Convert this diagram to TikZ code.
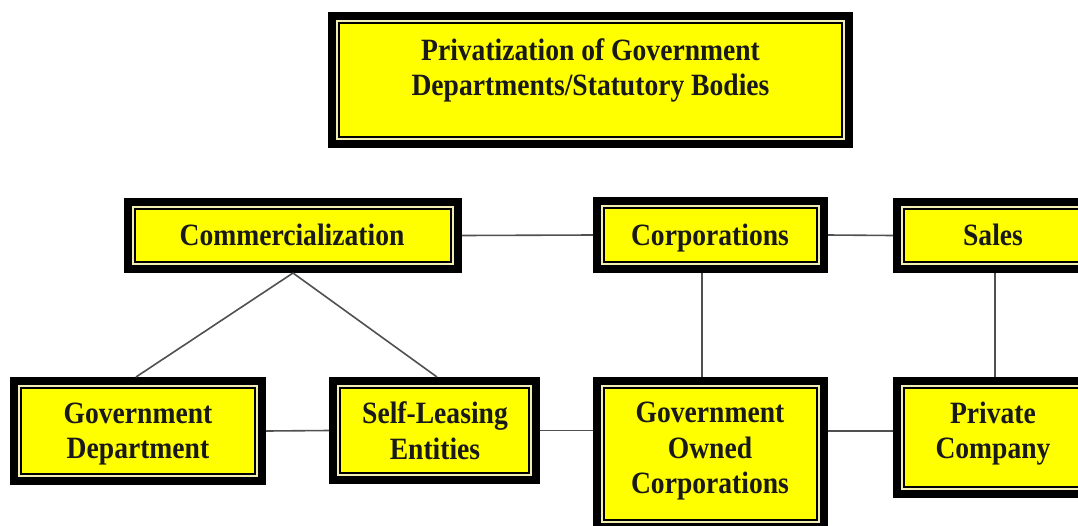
\documentclass[tikz,border=0pt]{standalone}
\usepackage{fontspec}
\setmainfont{Liberation Serif}[FakeStretch=0.89]
\definecolor{boxyellow}{HTML}{FFFF00}
\definecolor{cream}{HTML}{F2EDB0}
\definecolor{linegray}{HTML}{505050}
\tikzset{
  box/.style={rectangle, fill=boxyellow, draw=black, line width=2pt, inner sep=0pt, outer sep=11pt,
    preaction={draw=black, line width=22pt},
    preaction={draw=cream, line width=6.6pt}},
  txt/.style={align=center, inner sep=0pt, text=black!90, font=\fontsize{31}{35.5}\selectfont\bfseries,
    execute at begin node=\strut, execute at end node=\strut},
  conn/.style={draw=linegray, line width=1.6pt}
}
\begin{document}
\begin{tikzpicture}[x=1pt,y=-1pt]
\clip (0,0) rectangle (1078,525);
\fill[white] (0,0) rectangle (1078,525);
% boxes
\node[box, minimum width=503pt, minimum height=114pt] (title) at (590.5,80) {};
\node[box, minimum width=316pt, minimum height=53pt] (comm) at (293,235.5) {};
\node[box, minimum width=213pt, minimum height=54pt] (corp) at (710.5,235) {};
\node[box, minimum width=178pt, minimum height=53pt] (sales) at (993,235.5) {};
\node[box, minimum width=234pt, minimum height=86pt] (gd) at (138,431) {};
\node[box, minimum width=189pt, minimum height=85pt] (sl) at (434.5,430.5) {};
\node[box, minimum width=213pt, minimum height=132pt] (goc) at (710.5,454) {};
\node[box, minimum width=178pt, minimum height=99pt] (pc) at (993,437.5) {};
% texts
\node[txt] (titletxt) at (590.5,72.4) {Privatization of Government\\Departments/Statutory Bodies};
\node[txt] (commtxt) at (292,238) {Commercialization};
\node[txt] (corptxt) at (710,238) {Corporations};
\node[txt] (salestxt) at (993,238) {Sales};
\node[txt] (gdtxt) at (138,436) {Government\\Department};
\node[txt] (sltxt) at (435,435.7) {Self-Leasing\\Entities};
\node[txt] (goctxt) at (710,453.4) {Government\\Owned\\Corporations};
\node[txt] (pctxt) at (993,435.7) {Private\\Company};
% helper coordinates
\coordinate (vx1) at (702,0);
\coordinate (vx2) at (995,0);
\coordinate (lx1) at (136,0);
\coordinate (lx2) at (437,0);
\coordinate (hb) at (0,431);
% connectors
\draw[conn] (comm.east) -- (corp.west);
\draw[conn] (corp.east) -- (sales.west);
\draw[conn] (corp.south -| vx1) -- (goc.north -| vx1);
\draw[conn] (sales.south -| vx2) -- (pc.north -| vx2);
\draw[conn] (comm.south) -- (gd.north -| lx1);
\draw[conn] (comm.south) -- (sl.north -| lx2);
\draw[conn] (gd.east) -- (sl.west);
\draw[conn] (sl.east) -- (sl.east -| goc.west);
\draw[conn] (goc.east |- hb) -- (pc.west |- hb);
\end{tikzpicture}
\end{document}
